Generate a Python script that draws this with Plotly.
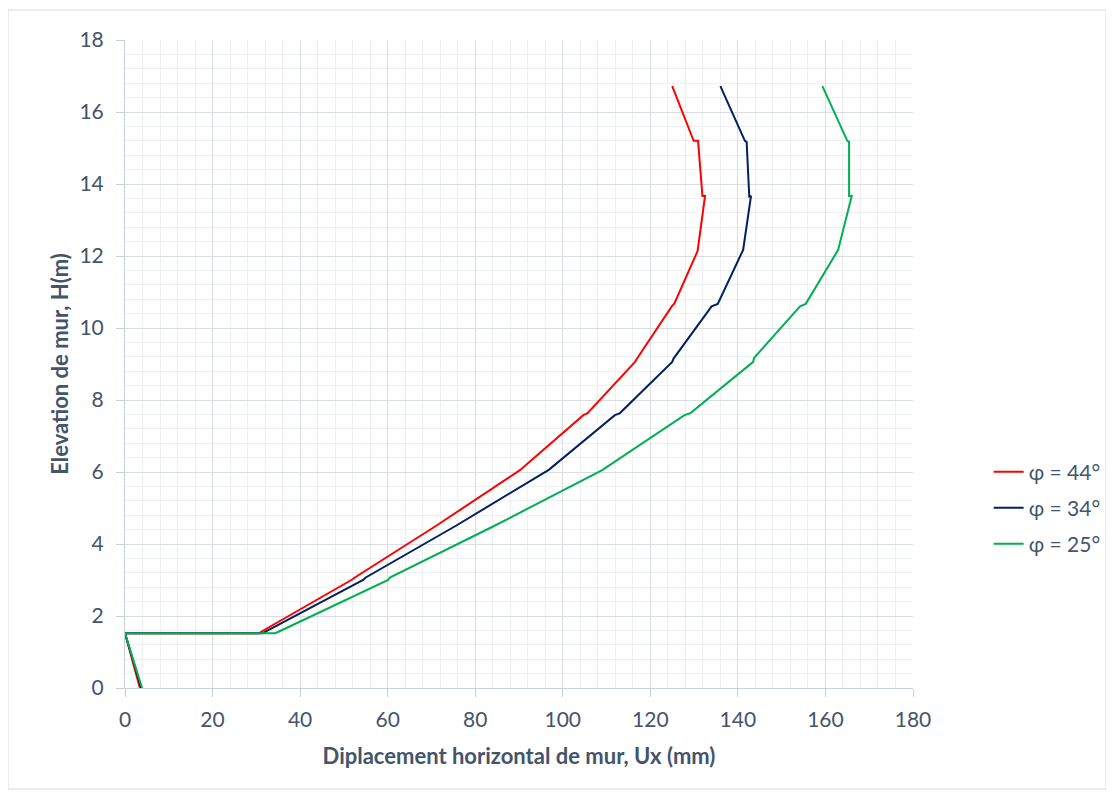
import plotly.graph_objects as go

# φ = 44°
x_44 = [3.4, 0, 30.6, 31.2, 52.0, 52.5, 71.0, 90.2, 104.7, 105.6, 116.5, 116.9,
        124.9, 125.5, 130.8, 132.5, 131.9, 130.9, 129.9, 125.0]
y_44 = [0, 1.52, 1.52, 1.57, 3.02, 3.07, 4.5, 6.05, 7.58, 7.63, 9.06, 9.14,
        10.6, 10.68, 12.14, 13.67, 13.67, 15.2, 15.2, 16.72]

# φ = 34°
x_34 = [3.7, 0, 31.4, 32.2, 54.4, 55.0, 75.5, 96.8, 111.9, 113.0, 125.0, 125.3,
        134.0, 135.4, 141.2, 143.0, 142.6, 142.0, 141.6, 136.0]
y_34 = [0, 1.52, 1.52, 1.57, 3.0, 3.07, 4.5, 6.06, 7.58, 7.63, 9.06, 9.15,
        10.6, 10.67, 12.17, 13.67, 13.65, 15.17, 15.2, 16.72]

# φ = 25°
x_25 = [3.9, 0, 34.3, 35.2, 60.1, 60.5, 84.3, 109.0, 127.8, 129.1, 143.5, 143.7,
        154.2, 155.5, 162.9, 166.0, 165.4, 165.4, 165.0, 159.3]
y_25 = [0, 1.52, 1.52, 1.57, 3.0, 3.07, 4.5, 6.05, 7.58, 7.63, 9.06, 9.17,
        10.6, 10.67, 12.17, 13.67, 13.67, 15.17, 15.2, 16.72]

names = ["φ = 44°", "φ = 34°", "φ = 25°"]
colors = ["#ff0000", "#002060", "#00b050"]

x_ticks = list(range(0, 181, 20))
y_ticks = list(range(0, 19, 2))

text_color = "#44546a"
font_family = "Lato, 'Open Sans', sans-serif"

fig = go.Figure()
series = [(x_44, y_44), (x_34, y_34), (x_25, y_25)]
legend_ids = ["legend", "legend2", "legend3"]
for (xs, ys), nm, col, lg in zip(series, names, colors, legend_ids):
    fig.add_trace(go.Scatter(x=xs, y=ys, mode="lines", name=nm,
                             line=dict(color=col, width=2), legend=lg))

leg_common = dict(font=dict(size=21, color=text_color, family=font_family),
                  bgcolor="rgba(0,0,0,0)", xanchor="left", yanchor="middle",
                  x=1.096)
fig.update_layout(
    width=1114, height=795,
    margin=dict(l=117, r=209, t=32, b=115),
    paper_bgcolor="white", plot_bgcolor="white",
    font=dict(family=font_family, color=text_color, size=21),
    showlegend=True,
    legend=dict(**leg_common, y=(688 - 472) / 648),
    legend2=dict(**leg_common, y=(688 - 508) / 648),
    legend3=dict(**leg_common, y=(688 - 544) / 648),
)

fig.update_xaxes(
    range=[0, 180], tickvals=x_ticks, ticktext=[str(v) for v in x_ticks],
    showgrid=True, gridcolor="#d9dde5", gridwidth=1,
    minor=dict(dtick=4, showgrid=True, gridcolor="#eef0f4", gridwidth=1),
    showline=True, linecolor="#c9cfd9", linewidth=1,
    ticks="outside", ticklen=8, tickcolor="#c9cfd9",
    zeroline=False, ticklabelstandoff=5,
    tickfont=dict(size=21, color=text_color),
    title=dict(text="<b>Diplacement horizontal de mur, Ux (mm)</b>",
               font=dict(size=22, color=text_color), standoff=18),
)
fig.update_yaxes(
    range=[0, 18], tickvals=y_ticks, ticktext=[str(v) for v in y_ticks],
    showgrid=True, gridcolor="#d9dde5", gridwidth=1,
    minor=dict(dtick=0.4, showgrid=True, gridcolor="#eef0f4", gridwidth=1),
    showline=True, linecolor="#c9cfd9", linewidth=1,
    ticks="outside", ticklen=8, tickcolor="#c9cfd9",
    zeroline=False, ticklabelstandoff=8,
    tickfont=dict(size=21, color=text_color),
    title=dict(text="<b>Elevation de mur, H(m)</b>",
               font=dict(size=22, color=text_color), standoff=4),
)

# chart-area border
fig.add_shape(type="rect", xref="paper", yref="paper",
              x0=(8 - 125) / 788, x1=(1106 - 125) / 788,
              y0=(688 - 789) / 648, y1=(688 - 10) / 648,
              line=dict(color="#d9d9d9", width=1), fillcolor="rgba(0,0,0,0)",
              layer="below")

fig.write_html("out.html")
